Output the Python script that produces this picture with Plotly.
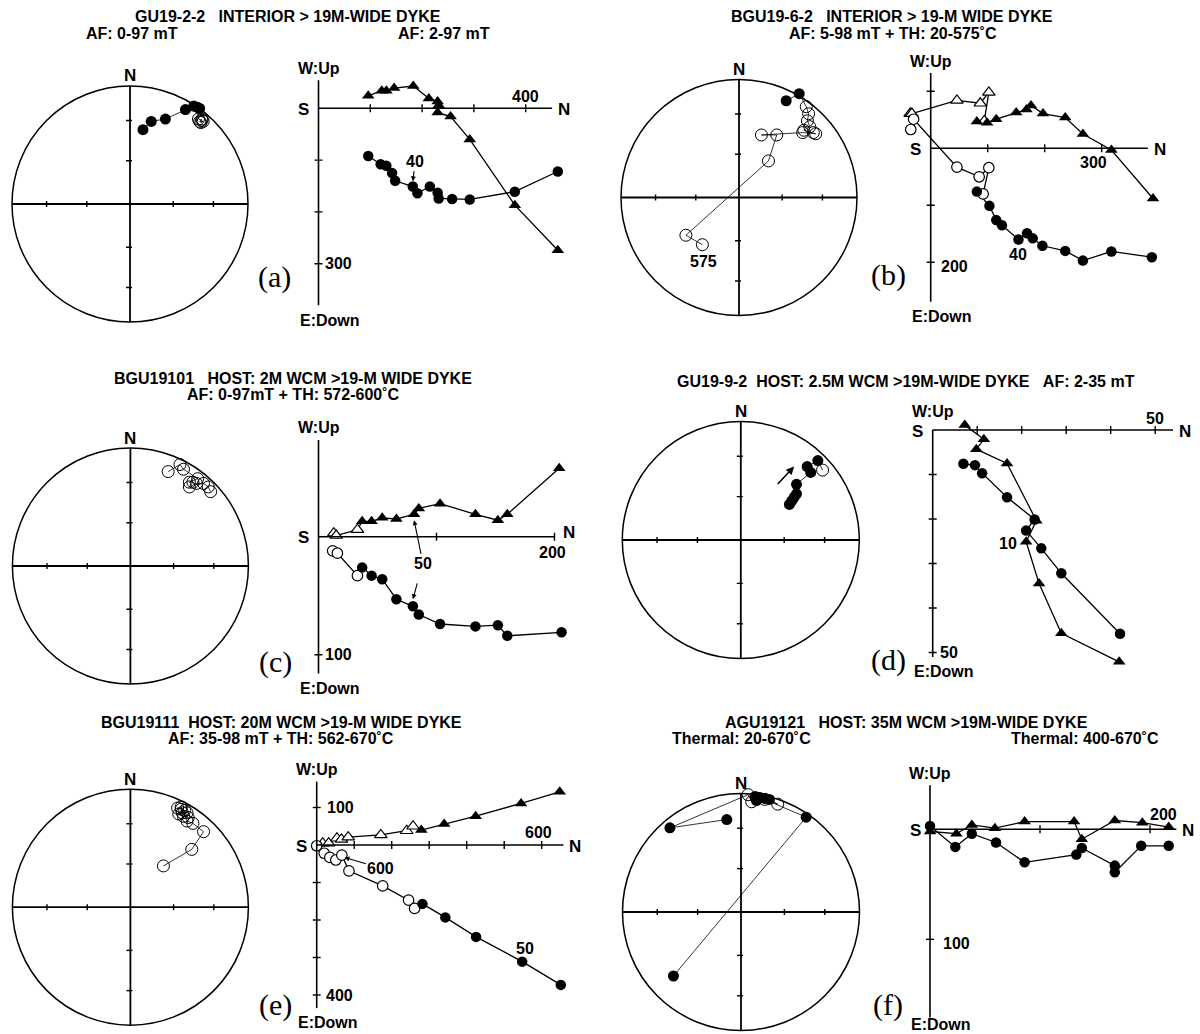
import plotly.graph_objects as go

W, H = 1200, 1034
SANS = "Liberation Sans, Arial, Helvetica, sans-serif"
SERIF = "Liberation Serif, Times New Roman, serif"
FS = 16  # general text size

# ======================= DATA =======================
# Stereonets: equal-area projected east (E) and north (N) components, UP=1 -> upper hemisphere (open)
# Zijderveld: N = north component, D = down component (E:Down / W:Up axis), OPEN=1 -> open symbol

# (a) GU19-2-2
A_NET_E = [0.11, 0.18, 0.30, 0.47, 0.54, 0.59, 0.57, 0.58, 0.61, 0.60, 0.62, 0.59, 0.61]
A_NET_N = [0.63, 0.70, 0.72, 0.80, 0.83, 0.81, 0.82, 0.72, 0.71, 0.69, 0.70, 0.70, 0.72]
A_NET_UP = [0, 0, 0, 0, 0, 0, 0, 1, 1, 1, 1, 1, 1]
A_TRI_N = [96, 122, 131, 146, 183, 213, 230, 232, 230, 255, 292, 379, 462]
A_TRI_D = [-24, -34, -34, -39, -43, -19, -13, -6, 8, 16, 60, 187, 274]
A_TRI_OPEN = [0] * 13
A_CIR_N = [96, 120, 131, 142, 148, 182, 191, 215, 230, 232, 258, 292, 379, 462]
A_CIR_D = [92, 108, 111, 125, 140, 151, 164, 151, 163, 174, 175, 176, 161, 122]
A_CIR_OPEN = [0] * 14

# (b) BGU19-6-2
B_NET_E = [0.40, 0.51, 0.57, 0.59, 0.58, 0.60, 0.55, 0.63, 0.65, 0.54, 0.19, 0.32, 0.25, -0.45, -0.31]
B_NET_N = [0.82, 0.88, 0.77, 0.71, 0.65, 0.60, 0.57, 0.55, 0.54, 0.55, 0.53, 0.53, 0.31, -0.32, -0.40]
B_NET_UP = [0, 0, 1, 1, 1, 1, 1, 1, 1, 1, 1, 1, 1, 1, 1]
B_TRI_N = [-36, -33, 46, 87, 102, 94, 81, 99, 115, 150, 168, 176, 197, 236, 267, 317, 390]
B_TRI_D = [-61, -61, -84, -79, -98, -48, -47, -45, -51, -63, -68, -75, -61, -54, -25, 3, 88]
B_TRI_OPEN = [1, 1, 1, 1, 1, 1, 0, 0, 0, 0, 0, 0, 0, 0, 0, 0, 0]
B_CIR_N = [-35, -30, 46, 85, 102, 92, 81, 103, 115, 125, 154, 169, 179, 196, 236, 267, 317, 388]
B_CIR_D = [-33, -51, 33, 50, 34, 80, 76, 101, 126, 135, 160, 149, 158, 171, 180, 197, 181, 191]
B_CIR_OPEN = [1, 1, 1, 1, 1, 1, 0, 0, 0, 0, 0, 0, 0, 0, 0, 0, 0, 0]

# (c) BGU19101
C_NET_E = [0.32, 0.42, 0.45, 0.57, 0.50, 0.53, 0.50, 0.56, 0.62, 0.66, 0.68]
C_NET_N = [0.80, 0.86, 0.82, 0.74, 0.71, 0.71, 0.67, 0.70, 0.70, 0.67, 0.63]
C_NET_UP = [1] * 11
C_TRI_N = [13, 15, 33, 37, 45, 54, 66, 81, 85, 103, 133, 152, 160, 204]
C_TRI_D = [-3, -1, -6, -13, -13, -16, -15, -19, -24, -28, -19, -14, -19, -58]
C_TRI_OPEN = [1, 1, 1, 0, 0, 0, 0, 0, 0, 0, 0, 0, 0, 0]
C_CIR_N = [12, 16, 33, 37, 45, 54, 66, 80, 85, 103, 133, 152, 160, 206]
C_CIR_D = [12, 14, 33, 26, 33, 36, 53, 59, 66, 74, 76, 75, 84, 81]
C_CIR_OPEN = [1, 1, 1, 0, 0, 0, 0, 0, 0, 0, 0, 0, 0, 0]

# (d) GU19-9-2
D_NET_E = [0.69, 0.65, 0.56, 0.59, 0.47, 0.47, 0.45, 0.43, 0.41]
D_NET_N = [0.59, 0.67, 0.62, 0.57, 0.47, 0.39, 0.36, 0.33, 0.30]
D_NET_UP = [1, 0, 0, 0, 0, 0, 0, 0, 0]
D_TRI_N = [7.2, 11.5, 9.8, 16.7, 23.3, 21.0, 23.9, 28.9, 41.9]
D_TRI_D = [-1.1, 2.1, 4.3, 7.5, 20.4, 25.1, 34.5, 45.7, 52.1]
D_TRI_OPEN = [0] * 9
D_CIR_N = [6.9, 9.5, 11.1, 16.7, 22.9, 21.0, 24.4, 28.9, 42.1]
D_CIR_D = [7.6, 7.9, 9.7, 15.1, 20.1, 22.6, 26.6, 32.2, 45.8]
D_CIR_OPEN = [0] * 9

# (e) BGU19111
E_NET_E = [0.40, 0.43, 0.46, 0.44, 0.48, 0.41, 0.45, 0.49, 0.43, 0.48, 0.53, 0.62, 0.52, 0.28]
E_NET_N = [0.84, 0.83, 0.82, 0.80, 0.80, 0.79, 0.77, 0.76, 0.85, 0.73, 0.71, 0.64, 0.49, 0.35]
E_NET_UP = [1] * 14
E_TRI_N = [16, 32, 54, 66, 84, 171, 240, 257, 279, 340, 424, 545, 648]
E_TRI_D = [-5, -5, -18, -15, -21, -27, -38, -50, -40, -56, -77, -111, -142]
E_TRI_OPEN = [1, 1, 1, 1, 1, 1, 1, 1, 0, 0, 0, 0, 0]
E_CIR_N = [0, 20, 35, 51, 67, 86, 176, 245, 261, 282, 343, 425, 548, 651]
E_CIR_D = [2, 22, 33, 40, 27, 69, 109, 147, 169, 157, 193, 245, 311, 373]
E_CIR_OPEN = [1, 1, 1, 1, 1, 1, 1, 1, 1, 0, 0, 0, 0, 0]

# (f) AGU19121
F_NET_E = [-0.12, -0.60, 0.06, 0.09, 0.12, 0.16, 0.13, 0.20, 0.24, 0.31, 0.20, 0.55, -0.57]
F_NET_N = [0.78, 0.71, 0.99, 0.93, 0.975, 0.966, 0.94, 0.958, 0.95, 0.91, 0.95, 0.80, -0.54]
F_NET_UP = [0, 0, 1, 1, 0, 0, 0, 0, 0, 1, 1, 0, 0]
F_TRI_N = [0, 24, 38, 59, 86, 131, 138, 168, 193, 217]
F_TRI_D = [2, 4, -4, -1, -7, -7, 9, -8, -6, -2]
F_TRI_OPEN = [0] * 10
F_CIR_N = [0, 23, 38, 60, 86, 133, 138, 168, 168, 192, 217]
F_CIR_D = [-3, 16, 4, 12, 30, 23, 17, 33, 39, 15, 15]
F_CIR_OPEN = [0] * 11

NET_TICKS = [-0.707, -0.366, 0.366, 0.707]

# ======================= BUILD =======================
fig = go.Figure()
layout_axes = {}
shapes = []
annotations = []
counter = [0]


def make_axes(left, right, top, bottom, fx, fy):
    left, right = max(0.0, left), min(W, right)
    top, bottom = max(0.0, top), min(H, bottom)
    counter[0] += 1
    n = counter[0]
    sx = "" if n == 1 else str(n)
    layout_axes["xaxis" + sx] = dict(domain=[left / W, right / W], range=[fx(left), fx(right)],
                                     visible=False, fixedrange=True, anchor="y" + sx)
    layout_axes["yaxis" + sx] = dict(domain=[1 - bottom / H, 1 - top / H], range=[fy(bottom), fy(top)],
                                     visible=False, fixedrange=True, anchor="x" + sx)
    return "x" + sx, "y" + sx


def label(text, x, y, size=FS, xref="paper", yref="paper", bold=True, family=SANS,
          xshift=0, yshift=0, xanchor="center", yanchor="middle"):
    if xref == "paper":
        x = x / W
    if yref == "paper":
        y = 1 - y / H
    annotations.append(dict(text=("<b>%s</b>" % text) if bold else text, x=x, y=y, xref=xref, yref=yref,
                            showarrow=False, xanchor=xanchor, yanchor=yanchor, xshift=xshift, yshift=yshift,
                            font=dict(family=family, size=size, color="black")))


def line(xr, yr, x0, y0, x1, y1, w=1.6):
    shapes.append(dict(type="line", xref=xr, yref=yr, x0=x0, y0=y0, x1=x1, y1=y1,
                       line=dict(color="black", width=w)))


def stereonet(cx, cy, r, E, N, UP):
    xr, yr = make_axes(cx - 1.3 * r, cx + 1.3 * r, cy - 1.3 * r, cy + 1.3 * r,
                       lambda p: (p - cx) / r, lambda p: (cy - p) / r)
    shapes.append(dict(type="circle", xref=xr, yref=yr, x0=-1, y0=-1, x1=1, y1=1,
                       line=dict(color="black", width=1.5)))
    line(xr, yr, -1, 0, 1, 0, 1.8)
    line(xr, yr, 0, -1, 0, 1, 1.8)
    for t in NET_TICKS:
        shapes.append(dict(type="line", xref=xr, yref=yr, x0=t, x1=t, ysizemode="pixel", yanchor=0,
                           y0=-3, y1=3, line=dict(color="black", width=1.4)))
        shapes.append(dict(type="line", xref=xr, yref=yr, y0=t, y1=t, xsizemode="pixel", xanchor=0,
                           x0=-4, x1=2, line=dict(color="black", width=1.4)))
    label("N", cx, cy - r - 10, size=17)
    fig.add_trace(go.Scatter(x=E, y=N, xaxis=xr, yaxis=yr, mode="lines",
                             line=dict(color="black", width=0.8), hoverinfo="skip"))
    fe = [e for e, u in zip(E, UP) if not u]
    fn = [n for n, u in zip(N, UP) if not u]
    oe = [e for e, u in zip(E, UP) if u]
    on = [n for n, u in zip(N, UP) if u]
    fig.add_trace(go.Scatter(x=oe, y=on, xaxis=xr, yaxis=yr, mode="markers", cliponaxis=False,
                             marker=dict(symbol="circle-open", size=12, color="black", line=dict(width=1)),
                             hoverinfo="skip"))
    fig.add_trace(go.Scatter(x=fe, y=fn, xaxis=xr, yaxis=yr, mode="markers", cliponaxis=False,
                             marker=dict(symbol="circle", size=11, color="black"), hoverinfo="skip"))
    return xr, yr


def zijderveld(ox, oy, s, xend, ytop, ybot, xticks, yticks,
               triN, triD, triO, cirN, cirD, cirO, up_dy=12, down_dy=-15, n_dx=12, n_dy=-1):
    xr, yr = make_axes(ox - 90, ox + xend * s + 40, oy + ytop * s - 30, oy + ybot * s + 30,
                       lambda p: (p - ox) / s, lambda p: (p - oy) / s)
    line(xr, yr, 0, 0, xend, 0, 1.6)
    line(xr, yr, 0, ytop, 0, ybot, 1.6)
    for t in xticks:
        shapes.append(dict(type="line", xref=xr, yref=yr, x0=t, x1=t, ysizemode="pixel", yanchor=0,
                           y0=-4, y1=4, line=dict(color="black", width=1.4)))
    for t in yticks:
        shapes.append(dict(type="line", xref=xr, yref=yr, y0=t, y1=t, xsizemode="pixel", xanchor=0,
                           x0=-4, x1=4, line=dict(color="black", width=1.4)))
    label("W:Up", 0, ytop, FS, xr, yr, yshift=up_dy)
    label("E:Down", 0, ybot, FS, xr, yr, xshift=11, yshift=down_dy)
    label("S", 0, 0, 17, xr, yr, xshift=-15, yshift=-1)
    label("N", xend, 0, 17, xr, yr, xshift=n_dx, yshift=n_dy)
    for nn, dd, oo, sym in ((triN, triD, triO, "triangle-up"), (cirN, cirD, cirO, "circle")):
        fig.add_trace(go.Scatter(x=nn, y=dd, xaxis=xr, yaxis=yr, mode="lines",
                                 line=dict(color="black", width=1.3), hoverinfo="skip"))
        on = [a for a, o in zip(nn, oo) if o]
        od = [b for b, o in zip(dd, oo) if o]
        fn = [a for a, o in zip(nn, oo) if not o]
        fd = [b for b, o in zip(dd, oo) if not o]
        sz = 11 if sym == "triangle-up" else 10.5
        fig.add_trace(go.Scatter(x=on, y=od, xaxis=xr, yaxis=yr, mode="markers", cliponaxis=False,
                                 marker=dict(symbol=sym, size=sz, color="white",
                                             line=dict(color="black", width=1.2)), hoverinfo="skip"))
        fig.add_trace(go.Scatter(x=fn, y=fd, xaxis=xr, yaxis=yr, mode="markers", cliponaxis=False,
                                 marker=dict(symbol=sym, size=sz, color="black",
                                             line=dict(color="black", width=0)), hoverinfo="skip"))
    return xr, yr


def arrow(xr, yr, x, y, ax, ay, text=" ", size=FS):
    annotations.append(dict(text=("<b>%s</b>" % text) if text.strip() else text, x=x, y=y, ax=ax, ay=ay,
                            xref=xr, yref=yr, axref=xr, ayref=yr, showarrow=True, arrowhead=2,
                            arrowsize=0.9, arrowwidth=1.1, arrowcolor="black",
                            font=dict(family=SANS, size=size, color="black")))


# ---------- panel (a) ----------
label("GU19-2-2\u00a0\u00a0\u00a0INTERIOR &gt; 19M-WIDE DYKE", 288, 17)
label("AF: 0-97 mT", 132, 34)
label("AF: 2-97 mT", 444, 34)
stereonet(130, 204, 118, A_NET_E, A_NET_N, A_NET_UP)
xr, yr = zijderveld(318.5, 108.3, 0.518, 451, -54, 380, [100, 200, 300, 400], [100, 200, 300],
                    A_TRI_N, A_TRI_D, A_TRI_OPEN, A_CIR_N, A_CIR_D, A_CIR_OPEN)
label("400", 400, 0, FS, xr, yr, yshift=12)
label("300", 0, 300, FS, xr, yr, xshift=20)
arrow(xr, yr, 182, 141, 187, 102, "40")
label("(a)", 274, 277, 30, bold=False, family=SERIF)

# ---------- panel (b) ----------
label("BGU19-6-2\u00a0\u00a0\u00a0INTERIOR &gt; 19-M WIDE DYKE", 892, 17)
label("AF: 5-98 mT + TH: 20-575˚C", 893, 34)
nx, ny = stereonet(739, 197.5, 118, B_NET_E, B_NET_N, B_NET_UP)
label("575", -0.305, -0.54, FS, nx, ny)
xr, yr = zijderveld(930.7, 148.3, 0.57, 381, -132, 269, [100, 200, 300], [-100, 100, 200],
                    B_TRI_N, B_TRI_D, B_TRI_OPEN, B_CIR_N, B_CIR_D, B_CIR_OPEN)
label("300", 300, 0, FS, xr, yr, xshift=-8, yshift=-14)
label("200", 0, 200, FS, xr, yr, xshift=24, yshift=-4)
label("40", 154, 187, FS, xr, yr)
label("(b)", 888.5, 275, 30, bold=False, family=SERIF)

# ---------- panel (c) ----------
label("BGU19101\u00a0\u00a0\u00a0HOST: 2M WCM &gt;19-M WIDE DYKE", 293, 378)
label("AF: 0-97mT + TH: 572-600˚C", 293, 394.5)
stereonet(130.4, 566, 118, C_NET_E, C_NET_N, C_NET_UP)
xr, yr = zijderveld(318.5, 536.7, 1.18, 200, -82, 116, [100, 200], [100],
                    C_TRI_N, C_TRI_D, C_TRI_OPEN, C_CIR_N, C_CIR_D, C_CIR_OPEN, n_dx=14, n_dy=4)
label("200", 200, 0, FS, xr, yr, xshift=-2, yshift=-16)
label("100", 0, 100, FS, xr, yr, xshift=20)
arrow(xr, yr, 81, -14, 88.6, 23, "50")
arrow(xr, yr, 80, 53, 86, 31, " ")
label("(c)", 275, 662, 30, bold=False, family=SERIF)

# ---------- panel (d) ----------
label("GU19-9-2\u00a0\u00a0HOST: 2.5M WCM &gt;19M-WIDE DYKE\u00a0\u00a0\u00a0AF: 2-35 mT", 906, 382)
nx, ny = stereonet(740.8, 540, 118.5, D_NET_E, D_NET_N, D_NET_UP)
annotations.append(dict(text="", x=0.45, y=0.62, ax=0.30, ay=0.46, xref=nx, yref=ny, axref=nx, ayref=ny,
                        showarrow=True, arrowhead=2, arrowsize=1, arrowwidth=1.6, arrowcolor="black"))
xr, yr = zijderveld(932.7, 430, 4.45, 54, 0, 51, [10, 20, 30, 40, 50], [10, 20, 30, 40, 50],
                    D_TRI_N, D_TRI_D, D_TRI_OPEN, D_CIR_N, D_CIR_D, D_CIR_OPEN, up_dy=19)
label("50", 50, 0, FS, xr, yr, yshift=12)
label("50", 0, 50, FS, xr, yr, xshift=16)
label("10", 17, 25.6, FS, xr, yr)
label("(d)", 888.5, 660, 30, bold=False, family=SERIF)

# ---------- panel (e) ----------
label("BGU19111\u00a0\u00a0HOST: 20M WCM &gt;19-M WIDE DYKE", 281, 722)
label("AF: 35-98 mT + TH: 562-670˚C", 281, 738.5)
stereonet(130.4, 907.2, 118, E_NET_E, E_NET_N, E_NET_UP)
xr, yr = zijderveld(316.7, 845, 0.375, 658, -169, 435, [100, 200, 300, 400, 500, 600],
                    [-100, 100, 200, 300, 400],
                    E_TRI_N, E_TRI_D, E_TRI_OPEN, E_CIR_N, E_CIR_D, E_CIR_OPEN, down_dy=-14)
label("600", 600, 0, FS, xr, yr, xshift=-3, yshift=13)
label("100", 0, -100, FS, xr, yr, xshift=24)
label("400", 0, 400, FS, xr, yr, xshift=23)
arrow(xr, yr, 74, 33, 171, 62, "600")
label("50", 555, 275, FS, xr, yr)
label("(e)", 275, 1005, 30, bold=False, family=SERIF)

# ---------- panel (f) ----------
label("AGU19121\u00a0\u00a0\u00a0HOST: 35M WCM &gt;19M-WIDE DYKE", 906, 722)
label("Thermal: 20-670˚C", 741.5, 738.5)
label("Thermal: 400-670˚C", 1084.6, 738.5)
stereonet(741, 912, 118.5, F_NET_E, F_NET_N, F_NET_UP)
xr, yr = zijderveld(930, 829.3, 1.1, 224, -40, 171, [100, 200], [100],
                    F_TRI_N, F_TRI_D, F_TRI_OPEN, F_CIR_N, F_CIR_D, F_CIR_OPEN, down_dy=-7)
label("200", 200, 0, FS, xr, yr, xshift=13, yshift=15)
label("100", 0, 100, FS, xr, yr, xshift=26, yshift=-4)
label("(f)", 888.5, 1005, 30, bold=False, family=SERIF)

fig.update_layout(width=W, height=H, margin=dict(l=0, r=0, t=0, b=0), autosize=False,
                  paper_bgcolor="white", plot_bgcolor="rgba(0,0,0,0)", showlegend=False,
                  shapes=shapes, annotations=annotations, **layout_axes)
fig.write_html("out.html", config={"displayModeBar": False})
